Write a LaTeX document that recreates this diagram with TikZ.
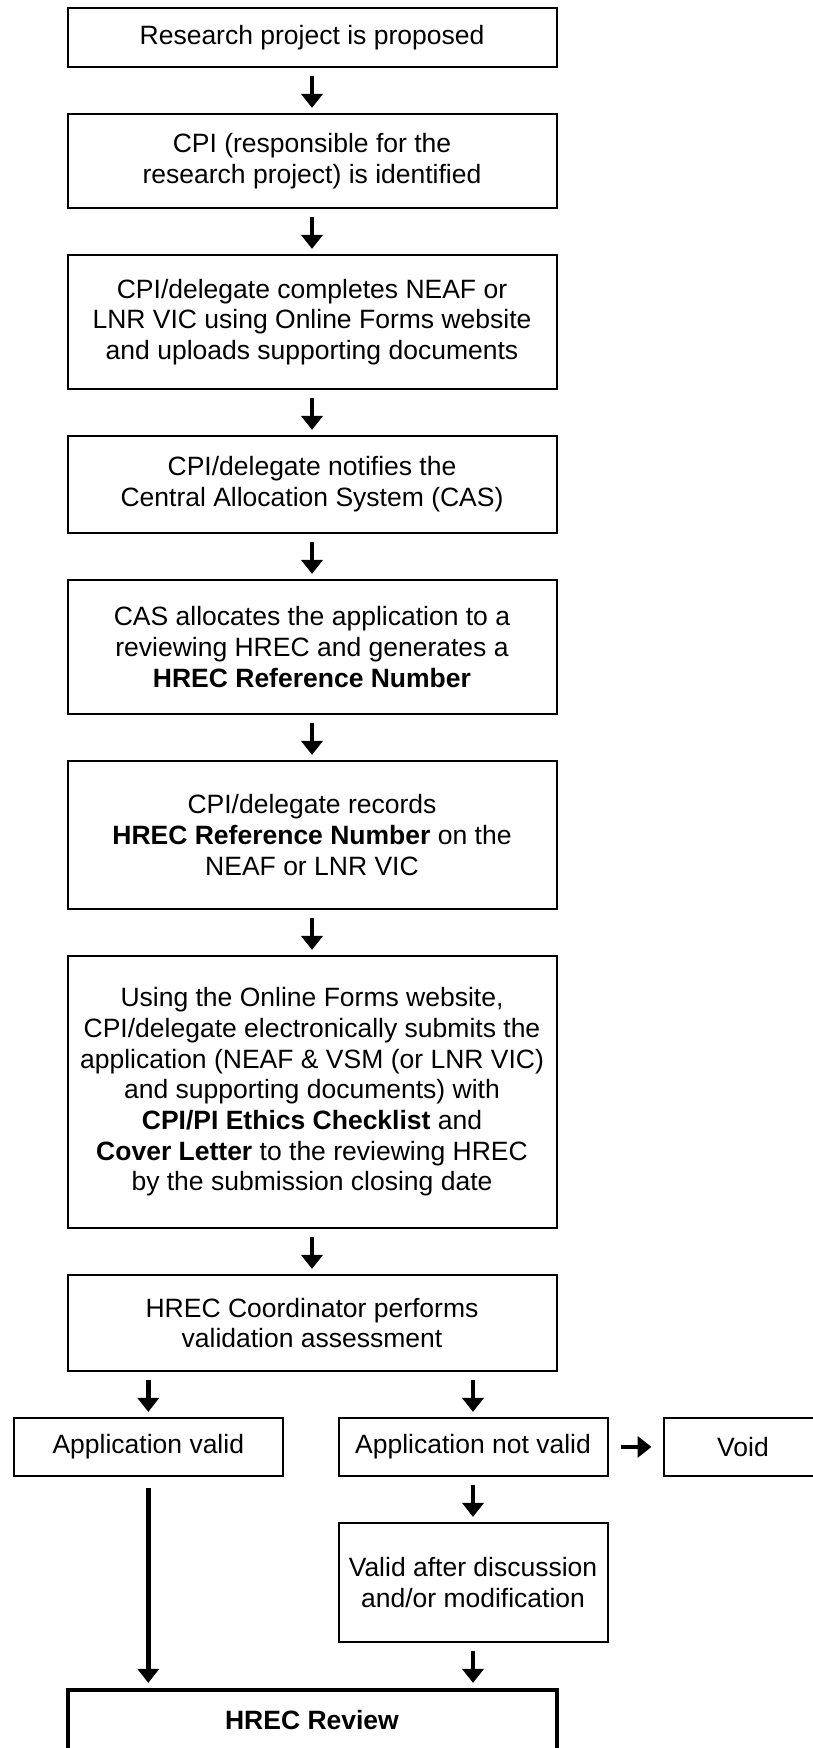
\documentclass[tikz,border=0pt]{standalone}
\usepackage{fontspec}
\setmainfont{Liberation Sans}
\usepackage{tikz}
\usetikzlibrary{arrows.meta}
\usetikzlibrary{positioning}
\tikzstyle{stepbox}=[draw,line width=2pt,minimum width=489pt,align=center,inner sep=2pt,font=\fontsize{26.5}{30.7}\selectfont]
\tikzstyle{smallbox}=[stepbox,minimum width=269pt,minimum height=58pt]
\tikzstyle{reviewbox}=[stepbox,line width=4pt,minimum height=60pt]
\tikzstyle{flow}=[line width=4.5pt,-{Triangle[length=14pt,width=21pt]},shorten <=8pt,shorten >=5pt]

\begin{document}
\begin{tikzpicture}[x=1pt,y=-1pt,node distance=45pt]
	\useasboundingbox (0,0) rectangle (813,1748);
	\node[stepbox,minimum height=59pt] (prop) at (312,37.4) {Research project is proposed};
	\node[stepbox,minimum height=94pt,below=of prop] (cpi) {CPI (responsible for the\\research project) is identified};
	\node[stepbox,minimum height=134pt,below=of cpi] (forms) {CPI/delegate completes NEAF or\\LNR VIC using Online Forms website\\and uploads supporting documents};
	\node[stepbox,minimum height=97pt,below=of forms] (notify) {CPI/delegate notifies the\\Central Allocation System (CAS)};
	\node[stepbox,minimum height=134pt,below=of notify] (alloc) {CAS allocates the application to a\\reviewing HREC and generates a\\\textbf{HREC Reference Number}};
	\node[stepbox,minimum height=148pt,below=of alloc] (record) {CPI/delegate records\\\textbf{HREC Reference Number} on the\\NEAF or LNR VIC};
	\node[stepbox,minimum height=272pt,below=of record] (submit) {Using the Online Forms website,\\CPI/delegate electronically submits the\\application (NEAF \& VSM (or LNR VIC)\\and supporting documents) with\\\textbf{CPI/PI Ethics Checklist} and\\\textbf{Cover Letter} to the reviewing HREC\\by the submission closing date};
	\node[stepbox,minimum height=96pt,below=of submit] (coord) {HREC Coordinator performs\\validation assessment};
	\node[smallbox,below=of coord,xshift=-163.7pt] (valid) {Application valid};
	\node[smallbox,below=of coord,xshift=161pt] (invalid) {Application not valid};
	\node[smallbox,minimum width=159pt,right=54pt of invalid] (void) {Void};
	\node[smallbox,minimum height=119pt,below=of invalid] (after) {Valid after discussion\\and/or modification};
	\node[reviewbox,below=45pt of after,xshift=-161pt] (review) {\textbf{HREC Review}};
	\draw[flow] (prop) -- (cpi);
	\draw[flow] (cpi) -- (forms);
	\draw[flow] (forms) -- (notify);
	\draw[flow] (notify) -- (alloc);
	\draw[flow] (alloc) -- (record);
	\draw[flow] (record) -- (submit);
	\draw[flow] (submit) -- (coord);
	\draw[flow] (coord.south -| valid) -- (valid);
	\draw[flow] (coord.south -| invalid) -- (invalid);
	\draw[flow,shorten <=12pt,shorten >=11pt] (invalid) -- (void);
	\draw[flow] (invalid) -- (after);
	\draw[flow,shorten <=11pt] (valid) -- (valid |- review.north);
	\draw[flow] (after) -- (after |- review.north);
\end{tikzpicture}
\end{document}
